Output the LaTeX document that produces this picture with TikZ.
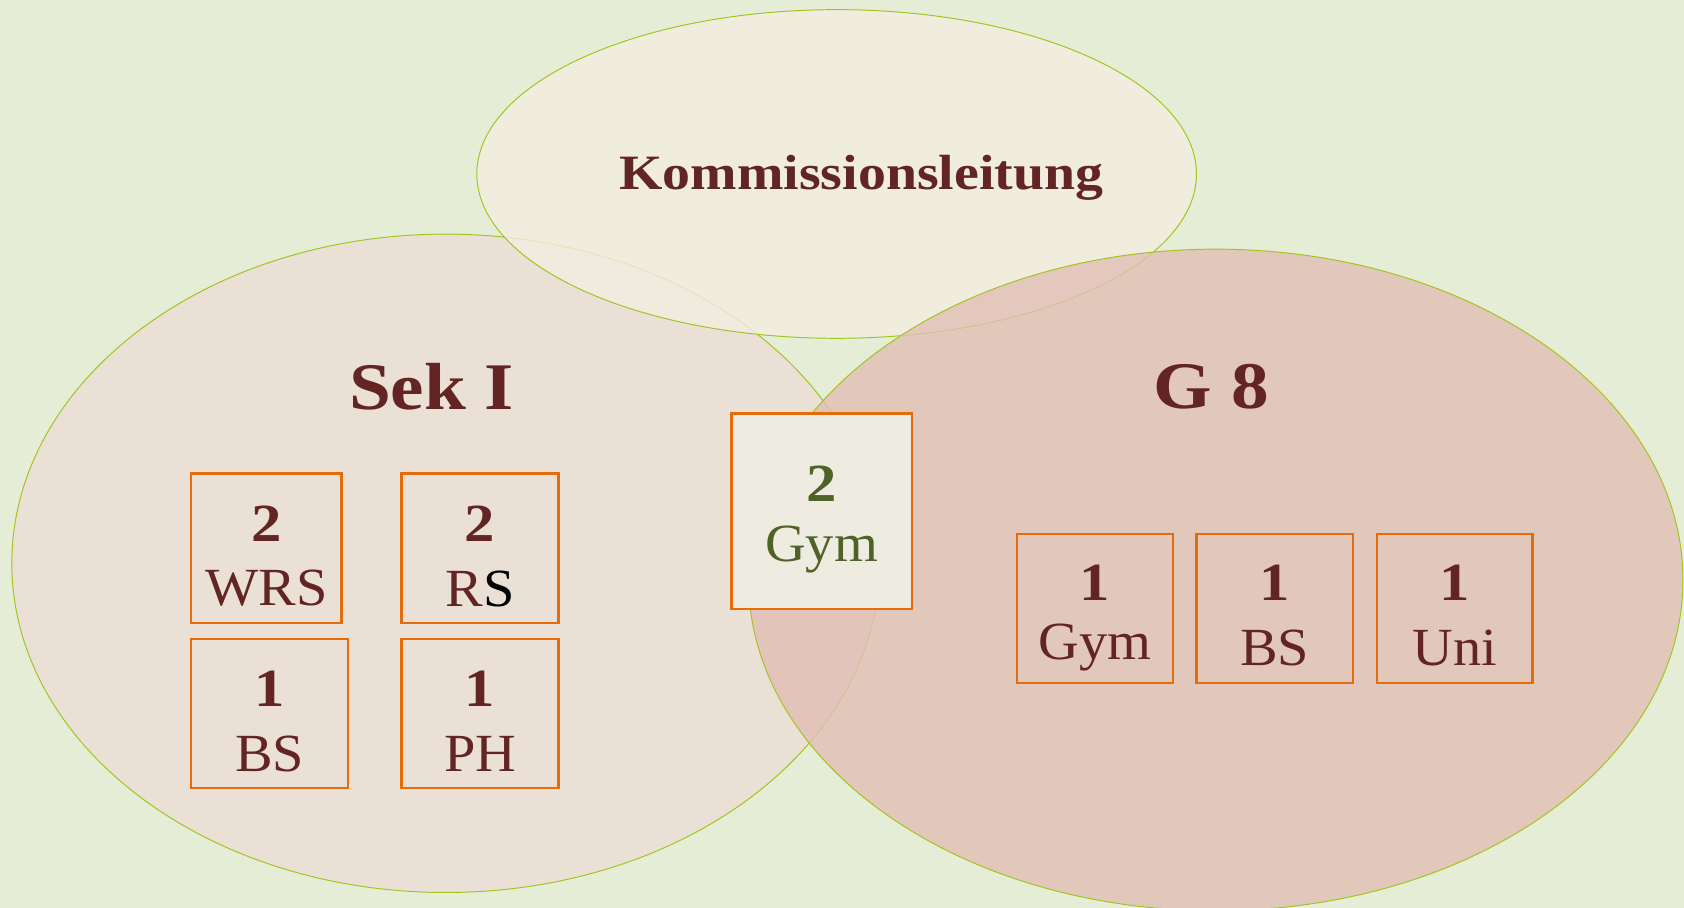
\documentclass[tikz,border=0pt]{standalone}
\usepackage{fontspec}
\setmainfont{Liberation Serif}
\newfontfamily\widefont[FakeStretch=1.13]{Liberation Serif}
\newfontfamily\semiwide[FakeStretch=1.05]{Liberation Serif}
\definecolor{bg}{HTML}{E5EDD6}
\definecolor{topfill}{HTML}{F3EDE2}
\definecolor{leftfill}{HTML}{EAE0D5}
\definecolor{rightfill}{HTML}{E2BEB5}
\definecolor{rim}{HTML}{A2C41C}
\definecolor{dred}{HTML}{632523}
\definecolor{dgreen}{HTML}{4F6228}
\definecolor{orng}{HTML}{E46C0A}
\definecolor{boxfill}{HTML}{EEEBE0}
\tikzset{
  venn/.style={draw=rim, line width=0.9pt},
  numbox/.style={draw=orng, line width=2.2pt, minimum width=#1, minimum height=139pt, inner sep=0pt, align=center},
  numbox/.default=142pt,
  cnt/.style={font=\widefont\fontsize{50}{50}\selectfont\bfseries},
  lbl/.style={font=\semiwide\fontsize{50}{50}\selectfont},
  head/.style={font=\widefont\fontsize{62}{62}\selectfont\bfseries, text=dred},
}
\begin{document}
\begin{tikzpicture}[x=1pt,y=-1pt]
\fill[bg] (0,0) rectangle (1568,845);
\useasboundingbox (0,0) rectangle (1568,845);
% ellipses
\draw[venn, fill=leftfill] (415,524.5) ellipse [x radius=404, y radius=306.5];
\draw[venn, fill=topfill, fill opacity=0.8] (779,162) ellipse [x radius=335, y radius=153];
\draw[venn, fill=rightfill, fill opacity=0.8] (1132,540) ellipse [x radius=435, y radius=308];
% headings
\node[font=\widefont\fontsize{46}{46}\selectfont\bfseries, text=dred] (kl) at (802,166) {Kommissionsleitung};
\node[head] (sek) at (402,360) {Sek I};
\node[head] (g8) at (1128,360) {G 8};
% centre box
\node[numbox=168pt, minimum height=182pt, fill=boxfill, text=dgreen] (gym) at (765,476) {};
\node[cnt, text=dgreen] (gymn) at (765,450) {2};
\node[lbl, text=dgreen] (gyml) at (765,512) {Gym};
% left boxes
\node[numbox=140pt] (wrs) at (248,510.5) {};
\node[cnt, text=dred] (wrsn) at (248,488) {2};
\node[lbl, text=dred] (wrsl) at (248,548) {WRS};
\node[numbox=146pt] (rs) at (447,510.5) {};
\node[cnt, text=dred] (rsn) at (447,488) {2};
\node[lbl] (rsl) at (447,548) {\textcolor{dred}{R}\textcolor{black}{S}};
\node[numbox=146pt] (bs1) at (251,664.5) {};
\node[cnt, text=dred] (bs1n) at (251,641) {1};
\node[lbl, text=dred] (bs1l) at (251,702) {BS};
\node[numbox=146pt] (ph) at (447,664.5) {};
\node[cnt, text=dred] (phn) at (447,641) {1};
\node[lbl, text=dred] (phl) at (447,702) {PH};
% right boxes
\node[numbox=145pt] (gym2) at (1019.5,566.5) {};
\node[cnt, text=dred] (gym2n) at (1019.5,543) {1};
\node[lbl, text=dred] (gym2l) at (1019.5,603) {Gym};
\node[numbox=146pt] (bs2) at (1187,566.5) {};
\node[cnt, text=dred] (bs2n) at (1187,543) {1};
\node[lbl, text=dred] (bs2l) at (1187,603) {BS};
\node[numbox=145pt] (uni) at (1354.5,566.5) {};
\node[cnt, text=dred] (unin) at (1354.5,543) {1};
\node[lbl, text=dred] (unil) at (1354.5,603) {Uni};
\end{tikzpicture}
\end{document}
